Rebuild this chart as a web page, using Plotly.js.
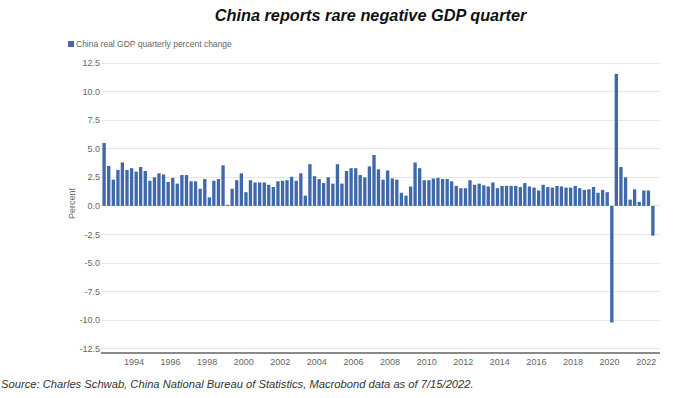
<!DOCTYPE html>
<html>
<head>
<meta charset="utf-8">
<script src="https://cdn.plot.ly/plotly-3.0.1.min.js"></script>
<style>html,body{margin:0;padding:0;background:#fff;}#chart{width:690px;height:398px;}</style>
</head>
<body>
<div id="chart"></div>
<script>
// First quarter shown: 1992 Q2; one value per quarter through 2022 Q2
const firstYear = 1992;
const firstQuarter = 2;
const seriesName = 'China real GDP quarterly percent change';
const gdpQoQ = [
  5.5, 3.5, 2.3, 3.15, 3.8, 3.15, 3.3, 3.0, 3.4, 3.05,
  2.2, 2.5, 2.85, 2.75, 2.1, 2.45, 1.95, 2.7, 2.7, 2.15,
  2.15, 1.5, 2.35, 0.75, 2.2, 2.35, 3.55, 0.1, 1.5, 2.25,
  2.85, 1.2, 2.25, 2.05, 2.05, 2.05, 1.85, 1.65, 2.15, 2.2,
  2.25, 2.55, 2.2, 2.85, 0.9, 3.65, 2.6, 2.35, 2.0, 2.5,
  1.95, 3.65, 1.95, 3.05, 3.3, 3.3, 2.7, 2.5, 3.45, 4.45,
  3.2, 2.3, 3.1, 2.4, 2.3, 1.15, 0.9, 1.7, 3.8, 3.3,
  2.25, 2.25, 2.4, 2.45, 2.35, 2.35, 2.15, 1.75, 1.55, 1.55,
  2.25, 1.85, 1.95, 1.8, 1.7, 2.05, 1.55, 1.75, 1.75, 1.75,
  1.75, 1.65, 2.0, 1.7, 1.6, 1.35, 1.85, 1.65, 1.6, 1.75,
  1.7, 1.6, 1.6, 1.75, 1.55, 1.4, 1.45, 1.65, 1.15, 1.4,
  1.2, -10.2, 11.55, 3.4, 2.5, 0.55, 1.45, 0.35, 1.35, 1.35,
  -2.6
];
const yTickVals = [-12.5, -10, -7.5, -5, -2.5, 0, 2.5, 5, 7.5, 10, 12.5];
const yTickText = ['-12.5', '-10.0', '-7.5', '-5.0', '-2.5', '0.0', '2.5', '5.0', '7.5', '10.0', '12.5'];
const xTickYears = [1994, 1996, 1998, 2000, 2002, 2004, 2006, 2008, 2010, 2012, 2014, 2016, 2018, 2020, 2022];

// quarter dates (mid-quarter) for each value
const quarterDates = gdpQoQ.map((_, i) => {
  const q0 = (firstQuarter - 1) + i;
  const yr = firstYear + Math.floor(q0 / 4);
  const m = (q0 % 4) * 3 + 2;
  return yr + '-' + String(m).padStart(2, '0') + '-15';
});

const barColor = '#4069aa';
const traces = [
  {
    type: 'bar',
    x: quarterDates,
    y: gdpQoQ,
    name: seriesName,
    marker: {color: barColor, line: {width: 0}},
    showlegend: false,
    hoverinfo: 'x+y'
  }
];

const layout = {
  width: 690,
  height: 398,
  paper_bgcolor: '#ffffff',
  plot_bgcolor: '#ffffff',
  margin: {l: 101, r: 30, t: 55, b: 46},
  font: {family: 'Liberation Sans, Arial, sans-serif', color: '#666666', size: 9},
  title: {
    text: '<b><i>China reports rare negative GDP quarter</i></b>',
    font: {family: 'Liberation Sans, Arial, sans-serif', size: 16.3, color: '#111111'},
    xref: 'container', x: 0.537, xanchor: 'center',
    yref: 'container', y: 0.962, yanchor: 'middle'
  },
  showlegend: false,
  bargap: 0.25,
  xaxis: {
    type: 'date',
    range: ['1992-03-14', '2022-10-04'],
    tickvals: xTickYears.map(y => y + '-01-01'),
    ticktext: xTickYears.map(String),
    showgrid: false,
    zeroline: false,
    showline: true,
    linecolor: '#8a8a8a',
    linewidth: 2,
    ticks: '',
    tickfont: {size: 9, color: '#666666'},
    fixedrange: true
  },
  yaxis: {
    range: [-12.78, 13.2],
    tickvals: yTickVals,
    ticktext: yTickText,
    showgrid: true,
    gridcolor: '#e4e6e8',
    gridwidth: 1,
    zeroline: false,
    showline: false,
    ticks: '',
    ticklen: 0,
    tickfont: {size: 9, color: '#666666'},
    title: {text: 'Percent', font: {size: 9, color: '#666666'}, standoff: 2},
    fixedrange: true
  },
  shapes: [
    // legend swatch
    {
      type: 'rect', xref: 'paper', yref: 'paper',
      x0: -0.0590, x1: -0.0483, y0: 1.027, y1: 1.047,
      fillcolor: barColor, line: {width: 0}
    }
  ],
  annotations: [
    {
      xref: 'paper', yref: 'paper',
      x: -0.0475, y: 1.037, xanchor: 'left', yanchor: 'middle',
      text: seriesName,
      showarrow: false,
      font: {size: 8.5, color: '#666666'}
    },
    {
      xref: 'paper', yref: 'paper',
      x: -0.1825, y: -0.108, xanchor: 'left', yanchor: 'middle',
      text: '<i>Source: Charles Schwab, China National Bureau of Statistics, Macrobond data as of 7/15/2022.</i>',
      showarrow: false,
      font: {size: 11.2, color: '#333333'}
    }
  ]
};

Plotly.newPlot('chart', traces, layout, {displayModeBar: false, staticPlot: true});
</script>
</body>
</html>
